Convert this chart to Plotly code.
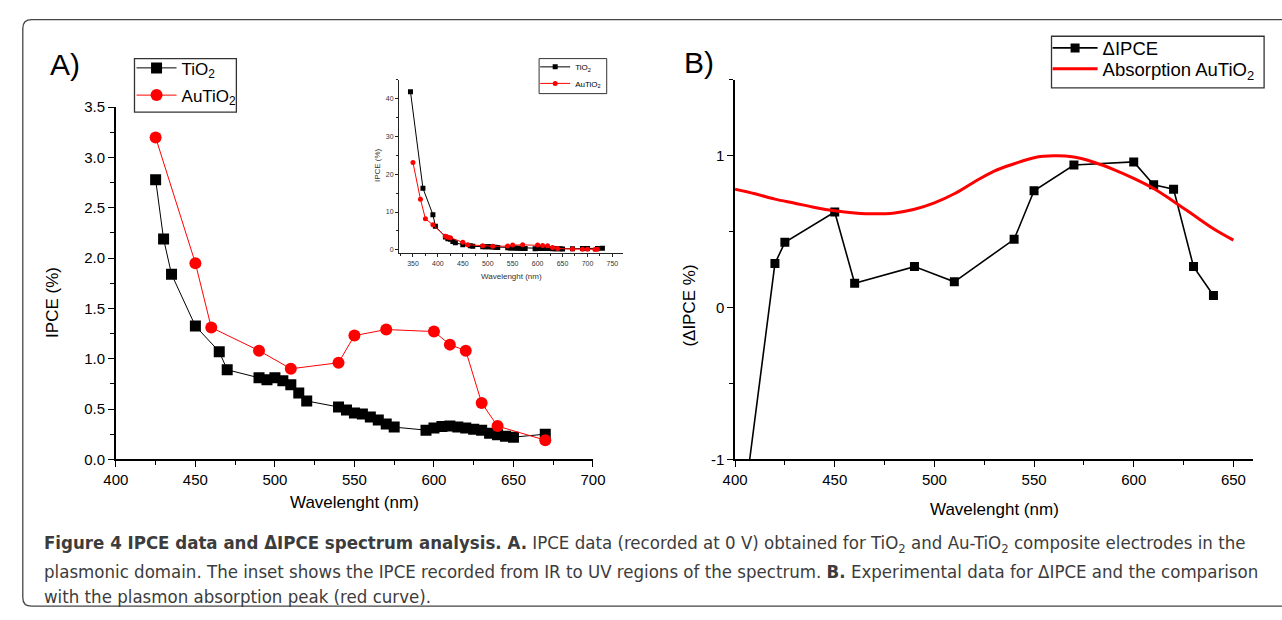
import plotly.graph_objects as go

W, H = 1282, 620

# ---------------- Panel A (main) data ----------------
wl_tio2 = [425, 430, 435, 450, 465, 470, 490, 495, 500, 505, 510, 515, 520,
           540, 545, 550, 555, 560, 565, 570, 575, 595, 600, 605, 610, 615,
           620, 625, 630, 635, 640, 645, 650, 670]
ipce_tio2 = [2.78, 2.19, 1.84, 1.325, 1.07, 0.89, 0.81, 0.79, 0.81, 0.78, 0.74, 0.66, 0.58,
             0.52, 0.49, 0.46, 0.45, 0.42, 0.39, 0.35, 0.32, 0.29, 0.31, 0.325, 0.33, 0.32,
             0.31, 0.30, 0.29, 0.26, 0.245, 0.23, 0.22, 0.25]
wl_au = [425, 450, 460, 490, 510, 540, 550, 570, 600, 610, 620, 630, 640, 670]
ipce_au = [3.20, 1.95, 1.31, 1.08, 0.90, 0.96, 1.23, 1.29, 1.27, 1.14, 1.08, 0.56, 0.33, 0.19]

# ---------------- Inset data (UV and IR extensions) ----------------
uv_wl_tio2 = [345, 370, 390, 395, 415, 420]
uv_tio2 = [41.9, 16.3, 9.3, 6.2, 3.4, 2.9]
ir_wl_tio2 = [690, 700, 720, 730]
ir_tio2 = [0.3, 0.3, 0.35, 0.4]
uv_wl_au = [350, 365, 375, 390, 415, 420]
uv_au = [23.1, 13.4, 8.2, 6.6, 3.6, 3.3]
ir_wl_au = [690, 700, 715, 720]
ir_au = [0.1, 0.1, 0.05, 0.1]

# ---------------- Panel B data ----------------
wl_d = [405, 420, 425, 450, 460, 490, 510, 540, 550, 570, 600, 610, 620, 630, 640]
d_ipce = [-1.24, 0.29, 0.43, 0.63, 0.16, 0.27, 0.17, 0.45, 0.77, 0.94, 0.96, 0.81, 0.78, 0.27, 0.08]
wl_abs = [400, 410, 420, 430, 440, 450, 460, 470, 480, 490, 500, 510, 520,
          530, 540, 550, 560, 570, 580, 590, 600, 610, 620, 630, 640, 650]
absorb = [0.78, 0.75, 0.715, 0.688, 0.660, 0.638, 0.624, 0.618, 0.624, 0.648, 0.690, 0.750, 0.828,
          0.900, 0.948, 0.988, 1.000, 0.992, 0.958, 0.910, 0.852, 0.785, 0.700, 0.610, 0.520, 0.445]

A_x_ticks = [400, 450, 500, 550, 600, 650, 700]
B_y_ticks = [-1, 0, 1]
B_y_labels = ["-1", "0", "1"]

FONT = "Liberation Sans, Arial, Helvetica, sans-serif"
CAP_FONT = "Liberation Sans Narrow, DejaVu Sans Condensed, sans-serif"


def px(x):
    return x / W


def py(y):
    return 1 - y / H


inset_wl_tio2 = uv_wl_tio2 + wl_tio2 + ir_wl_tio2
inset_tio2 = uv_tio2 + ipce_tio2 + ir_tio2
inset_wl_au = uv_wl_au + wl_au + ir_wl_au
inset_au = uv_au + ipce_au + ir_au

fig = go.Figure()

# Panel A
fig.add_trace(go.Scatter(x=wl_tio2, y=ipce_tio2, mode="lines+markers", name="TiO<sub>2</sub>",
                         line=dict(color="black", width=1),
                         marker=dict(symbol="square", size=11, color="black"),
                         xaxis="x", yaxis="y", legend="legend"))
fig.add_trace(go.Scatter(x=wl_au, y=ipce_au, mode="lines+markers", name="AuTiO<sub>2</sub>",
                         line=dict(color="#ff0000", width=1),
                         marker=dict(symbol="circle", size=12, color="#ff0000"),
                         xaxis="x", yaxis="y", legend="legend2"))

# Inset
fig.add_trace(go.Scatter(x=inset_wl_tio2, y=inset_tio2, mode="lines+markers", name="TiO<sub>2</sub>",
                         line=dict(color="black", width=1),
                         marker=dict(symbol="square", size=5, color="black"),
                         xaxis="x2", yaxis="y2", legend="legend3"))
fig.add_trace(go.Scatter(x=inset_wl_au, y=inset_au, mode="lines+markers", name="AuTiO<sub>2</sub>",
                         line=dict(color="#ff0000", width=1),
                         marker=dict(symbol="circle", size=5, color="#ff0000"),
                         xaxis="x2", yaxis="y2", legend="legend4"))

# Panel B
fig.add_trace(go.Scatter(x=wl_d, y=d_ipce, mode="lines+markers", name="\u0394IPCE",
                         line=dict(color="black", width=1.6),
                         marker=dict(symbol="square", size=9, color="black"),
                         xaxis="x3", yaxis="y3", legend="legend5"))
fig.add_trace(go.Scatter(x=wl_abs, y=absorb, mode="lines", name="Absorption AuTiO<sub>2</sub>",
                         line=dict(color="#ff0000", width=3, shape="spline"),
                         xaxis="x3", yaxis="y3", legend="legend6"))

axis_common = dict(showline=True, linecolor="black", linewidth=1.5, ticks="outside",
                   tickcolor="black", tickwidth=1.3, showgrid=False, zeroline=False,
                   tickfont=dict(family=FONT, size=15, color="black"))

inset_axis = dict(showline=True, linecolor="#222", linewidth=1, ticks="outside",
                  tickcolor="#222", tickwidth=1, ticklen=3, showgrid=False, zeroline=False,
                  tickfont=dict(family=FONT, size=7, color="#333"))


def leg(x, y, size, itemwidth):
    return dict(x=px(x), y=py(y), xanchor="left", yanchor="middle",
                bgcolor="rgba(0,0,0,0)", borderwidth=0,
                font=dict(family=FONT, size=size, color="black"), itemwidth=itemwidth)


fig.update_layout(
    width=W, height=H, margin=dict(l=0, r=0, t=0, b=0),
    paper_bgcolor="white", plot_bgcolor="rgba(0,0,0,0)",
    font=dict(family=FONT, color="black"),
    xaxis=dict(domain=[px(105), px(592)], range=[400, 700], anchor="y",
               tickvals=A_x_ticks, ticklen=6,
               minor=dict(dtick=25, ticks="outside", ticklen=4, tickcolor="black", tickwidth=1.3),
               **axis_common),
    yaxis=dict(domain=[py(463), py(101)], range=[0, 3.5], anchor="x",
               dtick=0.5, tickformat=".1f", ticklen=6,
               minor=dict(dtick=0.25, ticks="outside", ticklen=4, tickcolor="black", tickwidth=1.3),
               **axis_common),
    xaxis2=dict(domain=[px(394), px(623)], range=[322, 772], anchor="y2", dtick=50,
                minor=dict(dtick=25, ticks="outside", ticklen=2, tickcolor="#222"),
                **inset_axis),
    yaxis2=dict(domain=[py(251), py(73)], range=[-0.9, 45], anchor="x2", dtick=10,
                minor=dict(dtick=5, ticks="outside", ticklen=2, tickcolor="#222"),
                **inset_axis),
    xaxis3=dict(domain=[px(737), px(1266)], range=[400, 660], anchor="y3", dtick=50, ticklen=6,
                minor=dict(dtick=25, ticks="outside", ticklen=4, tickcolor="black", tickwidth=1.3),
                **axis_common),
    yaxis3=dict(domain=[py(463), py(73)], range=[-1, 1.5], anchor="x3",
                tickvals=B_y_ticks, ticktext=B_y_labels, ticklen=6,
                minor=dict(dtick=0.5, ticks="outside", ticklen=4, tickcolor="black", tickwidth=1.3),
                **axis_common),
    legend=leg(121, 61, 17, 40),
    legend2=leg(121, 89, 17, 40),
    legend3=leg(533, 59.5, 8, 30),
    legend4=leg(533, 76.5, 8, 30),
    legend5=leg(1056, 40.5, 18.5, 45),
    legend6=leg(1056, 62, 18.5, 45),
    showlegend=True,
)

# legend frames
for (bx0, by0, bx1, by1, lw) in [(124, 51, 228, 106, 1.3), (537, 51, 606, 87, 1.0),
                                 (1060, 28, 1277, 81, 1.3)]:
    fig.add_shape(type="rect", xref="paper", yref="paper",
                  x0=px(bx0), x1=px(bx1), y0=py(by1), y1=py(by0),
                  line=dict(color="#333", width=lw), fillcolor="rgba(0,0,0,0)")

ann = []


def text(x, y, s, size, angle=0, anchor="center", family=FONT, color="black"):
    ann.append(dict(x=px(x), y=py(y), xref="paper", yref="paper", text=s, showarrow=False,
                    xanchor=anchor, yanchor="middle", textangle=angle,
                    font=dict(family=family, size=size, color=color)))


text(53, 57, "A)", 30)
text(700, 55, "B)", 30)
text(41, 302, "IPCE (%)", 17, angle=-90)
text(349, 507, "Wavelenght (nm)", 17)
text(372, 160, "IPCE (%)", 8, angle=-90, color="#333")
text(509, 275, "Wavelenght (nm)", 8, color="#333")
text(691, 305, "(\u0394IPCE %)", 17, angle=-90)
text(1002, 515, "Wavelenght (nm)", 17)

cap_col = "#3c3c3c"
cap_size = 18.5
text(30, 550, "<b>Figure 4 IPCE data and \u0394IPCE spectrum analysis. A.</b> IPCE data (recorded at 0 V) "
     "obtained for TiO<sub>2</sub> and Au-TiO<sub>2</sub> composite electrodes in the", cap_size,
     anchor="left", family=CAP_FONT, color=cap_col)
text(30, 578, "plasmonic domain. The inset shows the IPCE recorded from IR to UV regions of the spectrum. "
     "<b>B.</b> Experimental data for \u0394IPCE and the comparison", cap_size,
     anchor="left", family=CAP_FONT, color=cap_col)
text(30, 604, "with the plasmon absorption peak (red curve).", cap_size,
     anchor="left", family=CAP_FONT, color=cap_col)

fig.update_layout(annotations=ann)

# rounded outer frame
r = 9
x0, y0, y1 = 10, 11, 614
path = (f"M {px(1300)},{py(y0)} L {px(x0 + r)},{py(y0)} Q {px(x0)},{py(y0)} {px(x0)},{py(y0 + r)} "
        f"L {px(x0)},{py(y1 - r)} Q {px(x0)},{py(y1)} {px(x0 + r)},{py(y1)} L {px(1300)},{py(y1)}")
fig.add_shape(type="path", path=path, xref="paper", yref="paper",
              line=dict(color="#444", width=1.3))

fig.write_html("out.html", config={"displayModeBar": False},
               post_script="document.body.style.margin='0';document.body.style.overflow='hidden';")
